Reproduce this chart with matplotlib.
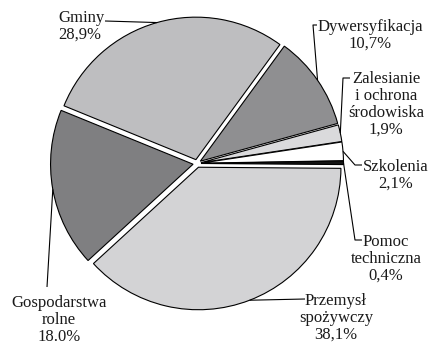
import numpy as np
import matplotlib
matplotlib.use("Agg")
import matplotlib.pyplot as plt

# Shares of funds by measure (%), listed clockwise from the left
labels = ["Gminy", "Dywersyfikacja", "Zalesianie\ni ochrona\nśrodowiska",
          "Szkolenia", "Pomoc\ntechniczna", "Przemysł\nspożywczy",
          "Gospodarstwa\nrolne"]
shares = [28.9, 10.7, 1.9, 2.1, 0.4, 38.1, 18.0]
share_text = ["28,9%", "10,7%", "1,9%", "2,1%", "0,4%", "38,1%", "18.0%"]
colors = ["#bebec0", "#8f8f91", "#dadadc", "#ffffff", "#141414",
          "#d3d3d5", "#7f7f81"]

W, H = 429, 345
plt.rcParams["font.family"] = ["Liberation Serif", "DejaVu Serif"]

fig = plt.figure(figsize=(W / 100, H / 100), dpi=100)
ax = fig.add_axes([0, 0, 1, 1])

cx, cy, R = 197, H - 163.5, 142.5
gap = 4.0  # wedge offset from the centre, in pixels
wedges, _ = ax.pie(shares, colors=colors, startangle=157.8, counterclock=False,
                   center=(cx, cy), radius=R, explode=[gap] * len(shares),
                   wedgeprops=dict(edgecolor="black", linewidth=0.8),
                   frame=True)

ax.set_xlim(0, W)
ax.set_ylim(0, H)
ax.set_aspect("equal")
ax.axis("off")

# label placement (pixel coords from top-left): text x, text top, alignment,
# and the leader-line points leading from the text towards the wedge
layout = [
    dict(x=58, y=10, ha="left", path=[(105, 21)]),
    dict(x=370, y=19, ha="center", path=[(317, 25), (313, 25)]),
    dict(x=386, y=71, ha="center", path=[(350, 78), (343, 78)]),
    dict(x=396, y=159, ha="center", path=[(362, 165), (355, 165)]),
    dict(x=386, y=234, ha="center", path=[(362, 240), (355, 240)]),
    dict(x=336, y=293, ha="center", path=[(305, 299)]),
    dict(x=59, y=295, ha="center", path=[(47, 287)]),
]

for w, lab, pct, lo in zip(wedges, labels, share_text, layout):
    mid = np.deg2rad((w.theta1 + w.theta2) / 2)
    ox, oy = w.center
    tip = (ox + w.r * np.cos(mid), oy + w.r * np.sin(mid))
    pts = [(px, H - py) for px, py in lo["path"]] + [tip]
    xs, ys = zip(*pts)
    ax.plot(xs, ys, color="black", lw=0.8, solid_capstyle="butt")
    ax.text(lo["x"], H - lo["y"], lab + "\n" + pct, ha=lo["ha"], va="top",
            fontsize=12, linespacing=1.08,
            multialignment="center" if lo["ha"] == "center" else "left",
            color="#1a1a1a")

fig.savefig("out.png", dpi=100)
